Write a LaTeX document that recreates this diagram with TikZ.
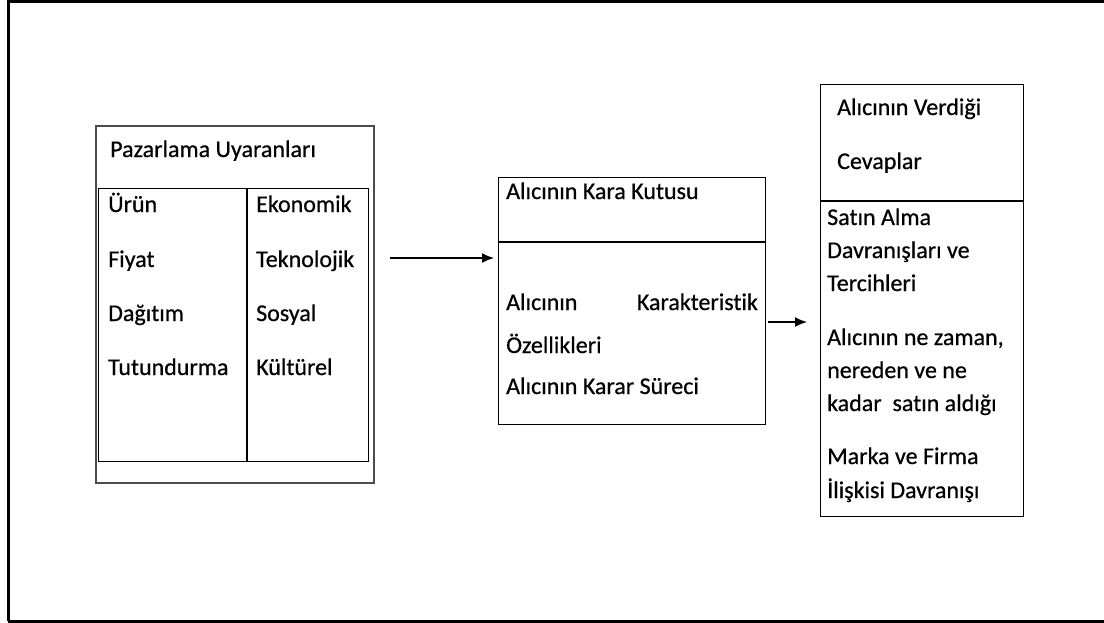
\documentclass[tikz,border=0pt]{standalone}
\usepackage{fontspec}
\setmainfont{Carlito}[Ligatures=NoCommon, FakeBold=0.6]
\usetikzlibrary{arrows.meta}
\begin{document}
\begin{tikzpicture}[x=1pt,y=-1pt,
  box/.style={draw=black, line width=1.3pt, rectangle, inner sep=0pt, anchor=north west},
  obox/.style={draw=black!70, line width=2pt, rectangle, inner sep=0pt, anchor=north west},
  txt/.style={anchor=base west, inner sep=0pt, font=\fontsize{24}{28}\selectfont},
  txtr/.style={anchor=base east, inner sep=0pt, font=\fontsize{24}{28}\selectfont},
  arr/.style={-{Latex[length=12pt,width=10pt]}, line width=1.6pt},
  frameline/.style={line width=3pt, draw=black}]
\useasboundingbox (0,0) rectangle (1104,622);
% outer frame
\coordinate (f1) at (8,621);
\coordinate (f2) at (8,1.5);
\coordinate (f3) at (1104,1.5);
\coordinate (f4) at (1104,621);
\draw[frameline] (f1) -- (f2) -- (f3);
\draw[frameline] (f1) -- (f4);
% left box
\node[obox, minimum width=278pt, minimum height=357pt] (stim) at (95,125) {};
\node[box, minimum width=270pt, minimum height=273pt] (inner) at (98,188) {};
\coordinate (dv) at (247,0);
\draw[line width=1.3pt] (inner.north -| dv) -- (inner.south -| dv);
\node[txt] (t0) at (110,157) {Pazarlama Uyaranları};
\node[txt] (l1) at (108,212) {Ürün};
\node[txt] (l2) at (108,267) {Fiyat};
\node[txt] (l3) at (108,321) {Dağıtım};
\node[txt] (l4) at (108,375) {Tutundurma};
\node[txt] (r1) at (256,212) {Ekonomik};
\node[txt] (r2) at (256,267) {Teknolojik};
\node[txt] (r3) at (256,321) {Sosyal};
\node[txt] (r4) at (256,375) {Kültürel};
% middle box
\node[box, minimum width=267pt, minimum height=247pt] (mid) at (498,177) {};
\coordinate (mh) at (0,242);
\draw[line width=1.3pt] (mid.west |- mh) -- (mid.east |- mh);
\node[txt] (m0) at (506,199) {Alıcının Kara Kutusu};
\node[txt] (m1) at (506,310) {Alıcının};
\node[txtr] (m1b) at (758,310) {Karakteristik};
\node[txt] (m2) at (506,353) {Özellikleri};
\node[txt] (m3) at (506,394) {Alıcının Karar Süreci};
% right box
\node[box, minimum width=203pt, minimum height=432pt] (resp) at (820,84) {};
\coordinate (rh) at (0,201);
\draw[line width=1.3pt] (resp.west |- rh) -- (resp.east |- rh);
\node[txt] (c0) at (837,115) {Alıcının Verdiği};
\node[txt] (c1) at (837,169) {Cevaplar};
\node[txt] (c2) at (827,225) {Satın Alma};
\node[txt] (c3) at (827,258) {Davranışları ve};
\node[txt] (c4) at (827,291) {Tercihleri};
\node[txt] (c5) at (827,345) {Alıcının ne zaman,};
\node[txt] (c6) at (827,378) {nereden ve ne};
\node[txt] (c7) at (827,411) {kadar\ \ satın aldığı};
\node[txt] (c8) at (827,464) {Marka ve Firma};
\node[txt] (c9) at (827,498) {İlişkisi Davranışı};
% arrows
\coordinate (a1s) at (390,258);
\coordinate (a1e) at (494,258);
\draw[arr] (a1s) -- (a1e);
\coordinate (a2s) at (768,322);
\coordinate (a2e) at (807,322);
\draw[arr] (a2s) -- (a2e);
\end{tikzpicture}
\end{document}
